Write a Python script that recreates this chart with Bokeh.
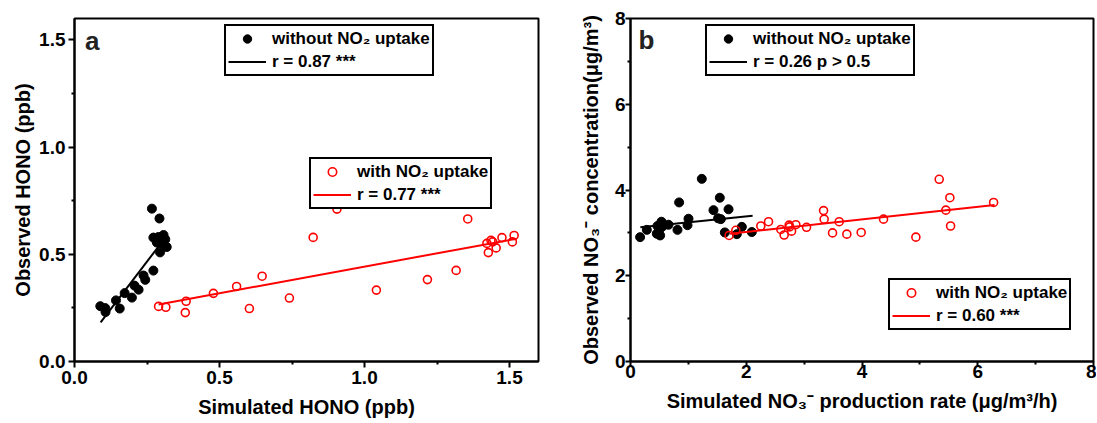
from bokeh.plotting import figure
from bokeh.layouts import row
from bokeh.models import FixedTicker, Legend, LegendItem, Label, PrintfTickFormatter, Range1d
from bokeh.embed import file_html
from bokeh.resources import INLINE

# ---------------- Panel a data (HONO, ppb) ----------------
a_without_x = [0.089, 0.106, 0.107, 0.143, 0.156, 0.173, 0.198, 0.207, 0.221, 0.238, 0.244, 0.272,
               0.267, 0.293, 0.295, 0.272, 0.290, 0.307, 0.313, 0.284, 0.301, 0.318, 0.300]
a_without_y = [0.258, 0.249, 0.231, 0.285, 0.247, 0.319, 0.298, 0.354, 0.335, 0.401, 0.381, 0.424,
               0.713, 0.667, 0.509, 0.578, 0.581, 0.590, 0.570, 0.555, 0.550, 0.534, 0.565]
a_with_x = [0.290, 0.315, 0.385, 0.382, 0.479, 0.559, 0.603, 0.647, 0.741, 0.823, 0.905, 1.041,
            1.217, 1.316, 1.356, 1.422, 1.427, 1.436, 1.442, 1.454, 1.474, 1.510, 1.516]
a_with_y = [0.257, 0.253, 0.281, 0.228, 0.318, 0.350, 0.247, 0.398, 0.296, 0.579, 0.711, 0.333,
            0.382, 0.425, 0.665, 0.551, 0.508, 0.565, 0.558, 0.530, 0.578, 0.558, 0.588]
a_fit_without_x = [0.09, 0.32]
a_fit_without_y = [0.183, 0.59]
a_fit_with_x = [0.29, 1.525]
a_fit_with_y = [0.266, 0.573]
a_ticks = [0.0, 0.5, 1.0, 1.5]
a_minor = [0.25, 0.75, 1.25]

# ---------------- Panel b data (NO3-) ----------------
b_without_x = [0.166, 0.282, 0.466, 0.535, 0.454, 0.512, 0.553, 0.657, 0.812, 0.840, 1.002, 0.985,
               1.232, 1.434, 1.543, 1.514, 1.561, 1.694, 1.630, 1.837, 1.924, 2.096, 0.500]
b_without_y = [2.90, 3.07, 3.16, 3.26, 2.98, 2.94, 3.15, 3.19, 3.07, 3.71, 3.33, 3.18,
               4.26, 3.53, 3.82, 3.34, 3.32, 3.55, 3.01, 2.97, 3.14, 3.02, 3.08]
b_with_x = [1.704, 1.820, 2.252, 2.385, 2.598, 2.655, 2.741, 2.783, 2.857, 2.750, 3.042, 3.336,
            3.346, 3.491, 3.606, 3.738, 3.986, 4.372, 4.931, 5.334, 5.449, 5.518, 5.531, 6.274]
b_with_y = [2.94, 3.06, 3.16, 3.26, 3.08, 2.95, 3.18, 3.04, 3.19, 3.14, 3.13, 3.52,
            3.32, 3.00, 3.26, 2.97, 3.01, 3.32, 2.90, 4.25, 3.53, 3.82, 3.16, 3.71]
b_fit_without_x = [0.17, 2.11]
b_fit_without_y = [3.13, 3.40]
b_fit_with_x = [1.72, 6.29]
b_fit_with_y = [2.98, 3.65]
b_ticks = [0, 2, 4, 6, 8]
b_minor = [1, 3, 5, 7]

FONT = "Liberation Sans"
RED = "#ff0000"
H = 423
TOP = 18
BOTTOM = H - 361


def style_axis(ax, ticks, minor, fmt, tick_out, std, lstd):
    ax.ticker = FixedTicker(ticks=ticks, minor_ticks=minor)
    ax.formatter = PrintfTickFormatter(format=fmt)
    ax.axis_line_width = 2
    ax.axis_line_color = "black"
    ax.major_tick_line_width = 2
    ax.minor_tick_line_width = 2
    ax.major_tick_line_color = "black"
    ax.minor_tick_line_color = "black"
    ax.major_tick_in = 0
    ax.major_tick_out = tick_out
    ax.minor_tick_in = 0
    ax.minor_tick_out = 3
    ax.major_label_text_font = FONT
    ax.major_label_text_font_style = "bold"
    ax.major_label_text_font_size = "19px"
    ax.major_label_text_color = "black"
    ax.major_label_standoff = std
    ax.axis_label_text_font = FONT
    ax.axis_label_text_font_style = "bold"
    ax.axis_label_text_font_size = "20px"
    ax.axis_label_text_color = "black"
    ax.axis_label_standoff = lstd


def style_fig(p):
    p.xgrid.visible = False
    p.ygrid.visible = False
    p.outline_line_color = "black"
    p.outline_line_width = 2
    p.outline_line_alpha = 1


def make_legend(items, vx, vy):
    lg = Legend(items=items, location=(vx, vy))
    lg.label_text_font = FONT
    lg.label_text_font_style = "bold"
    lg.label_text_font_size = "17px"
    lg.label_text_color = "black"
    lg.glyph_width = 38
    lg.glyph_height = 21
    lg.label_height = 21
    lg.label_standoff = 6
    lg.padding = 2
    lg.spacing = 2
    lg.margin = 0
    lg.border_line_color = "black"
    lg.border_line_width = 2
    lg.border_line_alpha = 1
    lg.background_fill_color = "white"
    lg.background_fill_alpha = 1
    return lg


# ---------------- Panel a ----------------
pa = figure(width=576, height=H, x_range=Range1d(0, 1.6), y_range=Range1d(0, 1.6),
            output_backend="svg", toolbar_location=None,
            min_border_left=74, min_border_right=38, min_border_top=TOP, min_border_bottom=BOTTOM)
style_fig(pa)
style_axis(pa.xaxis, a_ticks, a_minor, "%.1f", 6, 3, 9)
style_axis(pa.yaxis, a_ticks, a_minor, "%.1f", 6, 3, 2)
pa.xaxis.axis_label = "Simulated HONO (ppb)"
pa.yaxis.axis_label = "Observed HONO (ppb)"

ra_line_w = pa.line(a_fit_without_x, a_fit_without_y, line_color="black", line_width=2)
ra_pts_w = pa.scatter(a_without_x, a_without_y, size=9, marker="circle",
                      fill_color="black", line_color="black")
ra_line_r = pa.line(a_fit_with_x, a_fit_with_y, line_color=RED, line_width=2)
ra_pts_r = pa.scatter(a_with_x, a_with_y, size=8, marker="circle", fill_color=None,
                      line_color=RED, line_width=1.6)

pa.add_layout(make_legend([LegendItem(label="without NO\u2082 uptake", renderers=[ra_pts_w]),
                           LegendItem(label="r = 0.87 ***", renderers=[ra_line_w])], 150, 285))
pa.add_layout(make_legend([LegendItem(label="with NO\u2082 uptake", renderers=[ra_pts_r]),
                           LegendItem(label="r = 0.77 ***", renderers=[ra_line_r])], 235, 152))
pa.add_layout(Label(x=0.036, y=1.495, text="a", text_font=FONT, text_font_style="bold",
                    text_font_size="26px", text_color="#222222", text_baseline="alphabetic"))

# ---------------- Panel b ----------------
pb = figure(width=520, height=H, x_range=Range1d(0, 8), y_range=Range1d(0, 8),
            output_backend="svg", toolbar_location=None,
            min_border_left=54, min_border_right=3, min_border_top=TOP, min_border_bottom=BOTTOM)
style_fig(pb)
style_axis(pb.xaxis, b_ticks, b_minor, "%d", 5, -2, 9)
style_axis(pb.yaxis, b_ticks, b_minor, "%d", 5, 0, 10)
pb.xaxis.axis_label = "Simulated NO\u2083\u207b production rate (\u03bcg/m\u00b3/h)"
pb.yaxis.axis_label = "Observed NO\u2083\u207b concentration(\u03bcg/m\u00b3)"

rb_line_w = pb.line(b_fit_without_x, b_fit_without_y, line_color="black", line_width=2)
rb_pts_w = pb.scatter(b_without_x, b_without_y, size=9, marker="circle",
                      fill_color="black", line_color="black")
rb_line_r = pb.line(b_fit_with_x, b_fit_with_y, line_color=RED, line_width=2)
rb_pts_r = pb.scatter(b_with_x, b_with_y, size=8, marker="circle", fill_color=None,
                      line_color=RED, line_width=1.6)

pb.add_layout(make_legend([LegendItem(label="without NO\u2082 uptake", renderers=[rb_pts_w]),
                           LegendItem(label="r = 0.26 p > 0.5", renderers=[rb_line_w])], 75, 285))
pb.add_layout(make_legend([LegendItem(label="with NO\u2082 uptake", renderers=[rb_pts_r]),
                           LegendItem(label="r = 0.60 ***", renderers=[rb_line_r])], 258, 31))
pb.add_layout(Label(x=0.138, y=7.50, text="b", text_font=FONT, text_font_style="bold",
                    text_font_size="26px", text_color="#222222", text_baseline="alphabetic"))

layout = row(pa, pb)
open("out.html", "w").write(file_html(layout, INLINE))
